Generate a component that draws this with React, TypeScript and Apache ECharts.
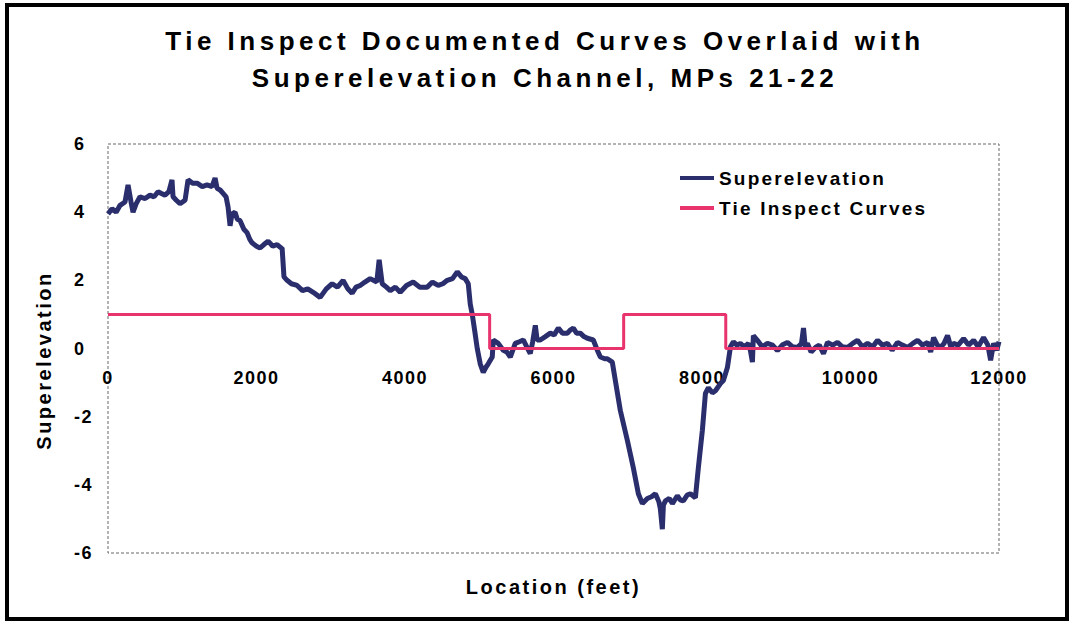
import React, { useEffect, useRef } from "react";
import * as echarts from "echarts";

const titleLines = [
  "Tie Inspect Documented Curves Overlaid with",
  "Superelevation Channel, MPs 21-22",
];
const xAxisName = "Location (feet)";
const yAxisName = "Superelevation";
const seriesNames = ["Superelevation", "Tie Inspect Curves"];

const locations = [
  0, 54, 110, 162, 229, 270, 310, 337, 380, 431, 500, 566, 620, 674, 720, 768, 820, 862, 876, 920,
  970, 1038, 1078, 1140, 1200, 1270, 1334, 1400, 1442, 1469, 1510, 1550, 1590, 1617, 1644, 1670,
  1711, 1740, 1779, 1830, 1873, 1910, 1940, 2000, 2048, 2100, 2156, 2220, 2277, 2330, 2345, 2370,
  2412, 2470, 2547, 2620, 2690, 2763, 2857, 2940, 3019, 3090, 3167, 3230, 3288, 3340, 3396, 3460,
  3531, 3620, 3652, 3693, 3750, 3801, 3870, 3935, 4020, 4110, 4200, 4299, 4370, 4447, 4510, 4569,
  4640, 4704, 4760, 4811, 4852, 4879, 4906, 4940, 4973, 5013, 5054, 5090, 5121, 5175, 5189, 5256,
  5323, 5370, 5418, 5485, 5540, 5593, 5640, 5687, 5720, 5755, 5780, 5822, 5890, 5957, 6010, 6065,
  6120, 6186, 6230, 6267, 6310, 6361, 6410, 6456, 6536, 6590, 6631, 6690, 6725, 6792, 6833, 6900,
  6995, 7075, 7143, 7197, 7264, 7320, 7372, 7420, 7439, 7466, 7480, 7507, 7560, 7601, 7668, 7710,
  7749, 7800, 7844, 7911, 7951, 8005, 8046, 8086, 8140, 8181, 8248, 8288, 8342, 8383, 8423, 8470,
  8517, 8570, 8625, 8652, 8679, 8692, 8746, 8810, 8881, 8950, 9016, 9080, 9151, 9220, 9286, 9340,
  9367, 9390, 9420, 9470, 9528, 9580, 9636, 9690, 9760, 9825, 9890, 9960, 10030, 10094, 10160,
  10229, 10300, 10364, 10430, 10499, 10560, 10633, 10700, 10768, 10840, 10903, 10970, 11038, 11080,
  11119, 11170, 11213, 11260, 11307, 11350, 11388, 11450, 11523, 11590, 11658, 11720, 11792, 11850,
  11887, 11927, 11970, 12000,
];

const superelevation = [
  3.95, 4.1, 4.0, 4.2, 4.3, 4.8, 4.3, 4.0, 4.25, 4.45, 4.4, 4.5, 4.45, 4.6, 4.55, 4.5, 4.6, 4.95,
  4.45, 4.35, 4.25, 4.35, 4.95, 4.85, 4.85, 4.75, 4.8, 4.75, 5.0, 4.7, 4.65, 4.55, 4.45, 4.15, 3.6,
  3.95, 4.0, 3.8, 3.75, 3.5, 3.4, 3.2, 3.1, 3.0, 2.95, 3.05, 3.15, 3.0, 3.05, 2.95, 2.95, 2.1, 2.0,
  1.9, 1.85, 1.7, 1.75, 1.65, 1.5, 1.75, 1.9, 1.8, 2.0, 1.75, 1.62, 1.8, 1.85, 1.95, 2.05, 1.95,
  2.6, 1.9, 1.8, 1.7, 1.8, 1.65, 1.85, 1.95, 1.8, 1.8, 1.95, 1.85, 1.9, 2.0, 2.05, 2.25, 2.1, 2.05,
  1.9, 1.3, 1.0, 0.5, 0.0, -0.45, -0.7, -0.55, -0.45, -0.25, 0.25, 0.15, -0.05, -0.1, -0.25, 0.15,
  0.2, 0.25, 0.05, -0.15, 0.2, 0.68, 0.25, 0.25, 0.35, 0.45, 0.4, 0.6, 0.45, 0.45, 0.55, 0.6, 0.45,
  0.45, 0.35, 0.3, 0.25, -0.05, -0.25, -0.3, -0.3, -0.4, -0.94, -1.82, -2.7, -3.5, -4.26, -4.55,
  -4.4, -4.35, -4.26, -4.5, -4.7, -5.3, -4.6, -4.47, -4.4, -4.55, -4.32, -4.45, -4.47, -4.3, -4.26,
  -4.38, -3.5, -2.4, -1.32, -1.15, -1.3, -1.24, -1.03, -0.94, -0.56, 0.05, 0.2, 0.1, 0.15, 0.05,
  0.15, -0.06, -0.4, 0.38, 0.24, 0.05, 0.15, 0.1, -0.06, 0.1, 0.18, 0.05, 0.03, 0.15, 0.6, 0.05,
  0.15, -0.1, 0.03, 0.1, -0.15, 0.18, 0.1, 0.18, 0.05, 0.03, 0.15, 0.24, 0.05, 0.15, 0.05, 0.24,
  0.1, 0.15, -0.05, 0.18, 0.1, 0.03, 0.15, 0.24, 0.1, 0.18, -0.1, 0.32, 0.1, 0.03, 0.15, 0.38, 0.05,
  0.15, 0.1, 0.29, 0.1, 0.24, 0.05, 0.32, 0.1, -0.35, 0.15, -0.05, 0.2,
];

const curveLocations = [0, 5140, 5140, 6945, 6945, 8320, 8320, 12000];
const curveValues = [1, 1, 0, 0, 1, 1, 0, 0];

const FONT = "'Liberation Sans', Arial, Helvetica, sans-serif";
const NAVY = "#2a2e6c";
const PINK = "#e8336d";

const GRID_TOP = 144;
const GRID_HEIGHT = 409;

const spacingBySize: Record<string, number> = {
  "26px": 4.5,
  "20px": 2.5,
  "19px": 2.2,
  "18px": 1.5,
};

export default function App() {
  const ref = useRef<HTMLDivElement>(null);

  useEffect(() => {
    const el = ref.current;
    if (!el) return;
    document.body.style.margin = "0";
    const chart = echarts.init(el, null, { renderer: "svg" });

    // the x axis crosses the y axis at value 0 (middle of the -6..6 range)
    const zeroOffset = -GRID_HEIGHT / 2;

    const option: any = {
      animation: false,
      backgroundColor: "#ffffff",
      grid: {
        left: 108,
        top: GRID_TOP,
        right: 74,
        height: GRID_HEIGHT,
        containLabel: false,
        outerBoundsMode: "none",
      },
      legend: {
        orient: "vertical",
        left: 675,
        top: 163,
        itemWidth: 34,
        itemHeight: 4,
        itemGap: 10,
        icon: "rect",
        data: seriesNames,
        textStyle: { fontFamily: FONT, fontSize: 19, fontWeight: "bold", color: "#000", lineHeight: 20 },
      },
      xAxis: {
        type: "value",
        position: "bottom",
        offset: zeroOffset,
        min: 0,
        max: 12000,
        interval: 2000,
        name: xAxisName,
        nameLocation: "middle",
        nameGap: 228,
        nameTextStyle: { fontFamily: FONT, fontSize: 20, fontWeight: "bold", color: "#000" },
        axisLine: { show: false, onZero: false },
        axisTick: { show: false },
        splitLine: { show: false },
        axisLabel: {
          margin: 20,
          fontFamily: FONT,
          fontSize: 18,
          fontWeight: "bold",
          color: "#000",
          showMinLabel: true,
          showMaxLabel: true,
          formatter: (v: number) => String(v),
        },
      },
      yAxis: {
        type: "value",
        min: -6,
        max: 6,
        interval: 2,
        name: yAxisName,
        nameLocation: "middle",
        nameGap: 54,
        nameRotate: 90,
        nameTextStyle: { fontFamily: FONT, fontSize: 20, fontWeight: "bold", color: "#000", padding: [0, 24, 0, 0] },
        axisLine: { show: false, onZero: false },
        axisTick: { show: false },
        splitLine: { show: false },
        axisLabel: {
          margin: 34,
          align: "left",
          fontFamily: FONT,
          fontSize: 18,
          fontWeight: "bold",
          color: "#000",
          formatter: (v: number) => String(v),
        },
      },
      series: [
        {
          name: seriesNames[0],
          type: "line",
          symbol: "none",
          data: locations.map((x, i) => [x, superelevation[i]]),
          lineStyle: { color: NAVY, width: 5 },
          itemStyle: { color: NAVY },
          z: 2,
        },
        {
          name: seriesNames[1],
          type: "line",
          symbol: "none",
          data: curveLocations.map((x, i) => [x, curveValues[i]]),
          lineStyle: { color: PINK, width: 3 },
          itemStyle: { color: PINK },
          z: 3,
        },
      ],
      graphic: [
        {
          type: "rect",
          z: 0,
          shape: { x: 7, y: 5, width: 1060, height: 614 },
          style: { fill: "none", stroke: "#000", lineWidth: 4 },
          silent: true,
        },
        {
          type: "rect",
          z: 0,
          shape: { x: 108, y: GRID_TOP, width: 891, height: GRID_HEIGHT },
          style: { fill: "none", stroke: "#666", lineWidth: 1, lineDash: [3, 2] },
          silent: true,
        },
        {
          type: "text",
          x: 545,
          y: 41,
          style: {
            text: titleLines[0],
            font: `bold 26px ${FONT}`,
            fill: "#000",
            align: "center",
            verticalAlign: "middle",
          },
        },
        {
          type: "text",
          x: 545,
          y: 78,
          style: {
            text: titleLines[1],
            font: `bold 26px ${FONT}`,
            fill: "#000",
            align: "center",
            verticalAlign: "middle",
          },
        },
      ],
    };

    chart.setOption(option);

    const applySpacing = () => {
      el.querySelectorAll("text").forEach((t) => {
        const size = window.getComputedStyle(t).fontSize;
        const ls = spacingBySize[size];
        if (ls !== undefined) (t as SVGTextElement).style.letterSpacing = ls + "px";
      });
    };
    applySpacing();
    chart.on("finished", applySpacing);

    return () => {
      chart.dispose();
    };
  }, []);

  return (
    <div
      ref={ref}
      style={{ position: "absolute", left: 0, top: 0, width: 1073, height: 621, background: "#fff" }}
    />
  );
}
